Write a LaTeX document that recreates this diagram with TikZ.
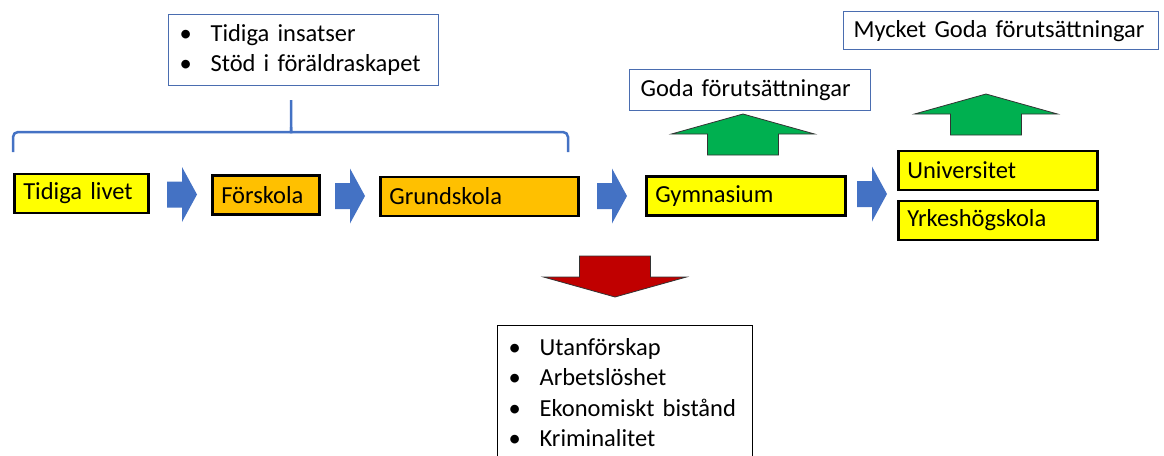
\documentclass[tikz,border=0pt]{standalone}
\usepackage{fontspec}
\setmainfont{Carlito}
\usetikzlibrary{positioning}
\definecolor{mblue}{HTML}{4472C4}
\definecolor{mframe}{HTML}{4A6DB0}
\definecolor{mgreen}{HTML}{00B050}
\definecolor{mred}{HTML}{C00000}
\definecolor{myellow}{HTML}{FFFF00}
\definecolor{morange}{HTML}{FFC000}
\newcommand{\bigtxt}{\fontsize{24.5}{30.5}\selectfont\spaceskip=0.2em\relax}
\newcommand{\bitem}[1]{\makebox[31pt][l]{\textbullet}#1}
\tikzset{
  stage/.style = {draw, line width = 2.6pt, fill = #1, anchor = west,
                  inner xsep = 9pt, minimum height = 39pt, font = \bigtxt},
  note/.style = {draw = #1, line width = 1.2pt, anchor = north west,
                 inner xsep = 11pt, font = \bigtxt},
  pics/flow/.style = {code = {
    \fill [mblue] (-15,-13) -- (0,-13) -- (0,-27.5) -- (15,0) -- (0,27.5) -- (0,13) -- (-15,13) -- cycle;
  }},
  pics/bigarrow/.style = {code = {
    \filldraw [fill = #1, draw = black!80, line width = 0.8pt]
      (0,0) -- (71.5,20) -- (35.5,20) -- (35.5,41) -- (-35.5,41) -- (-35.5,20) -- (-71.5,20) -- cycle;
  }}
}

\begin{document}
\begin{tikzpicture}[x = 1pt, y = -1pt]
  \useasboundingbox (0,0) rectangle (1164,455);
  \clip (0,0) rectangle (1164,455);

  % the way through school
  \node [stage = myellow, text width = 116pt] (tidiga) at (13,193.5) {Tidiga livet};
  \node [stage = morange, text width = 89pt] (forskola) at (211,195) {Förskola};
  \node [stage = morange, text width = 180pt] (grundskola) at (379,196.5) {Grundskola};
  \node [stage = myellow, text width = 181pt] (gymnasium) at (645,196) {Gymnasium};
  \node [stage = myellow, text width = 181pt] (universitet) at (897,170.5) {Universitet};
  \node [stage = myellow, text width = 181pt] (yrkes) at (897,220.5) {Yrkeshögskola};

  \foreach \x/\y in {182/194.5, 350/196, 612/196, 872/194} {
    \pic at (\x,\y) {flow};
  }

  % support in the early years
  \node [note = mframe, text width = 248pt, minimum height = 71pt] (insatser) at (168,14)
    {\bitem{Tidiga insatser}\\ \bitem{Stöd i föräldraskapet}};
  \draw [mblue, line width = 2.5pt, rounded corners = 5pt]
    (13,152) -- (13,132) -- (286,132) .. controls (291,132) .. (291,127) -- (291,100);
  \draw [mblue, line width = 2.5pt, rounded corners = 5pt]
    (291,127) .. controls (291,132) .. (296,132) -- (568,132) -- (568,152);

  % outcomes
  \node [note = mframe, text width = 219pt, minimum height = 41pt] (goda) at (629,69)
    {Goda förutsättningar};
  \node [note = mframe, text width = 295pt, minimum height = 38pt, inner xsep = 10pt] (mycketgoda) at (843,11)
    {Mycket Goda förutsättningar};
  \pic at (743,114) {bigarrow = mgreen};
  \pic at (986,94) {bigarrow = mgreen};

  \pic [rotate = 180] at (615,297) {bigarrow = mred};
  \node [note = black, text width = 233pt, minimum height = 134pt] (risker) at (497,325)
    {\bitem{Utanförskap}\\ \bitem{Arbetslöshet}\\ \bitem{Ekonomiskt bistånd}\\ \bitem{Kriminalitet}};
\end{tikzpicture}
\end{document}
